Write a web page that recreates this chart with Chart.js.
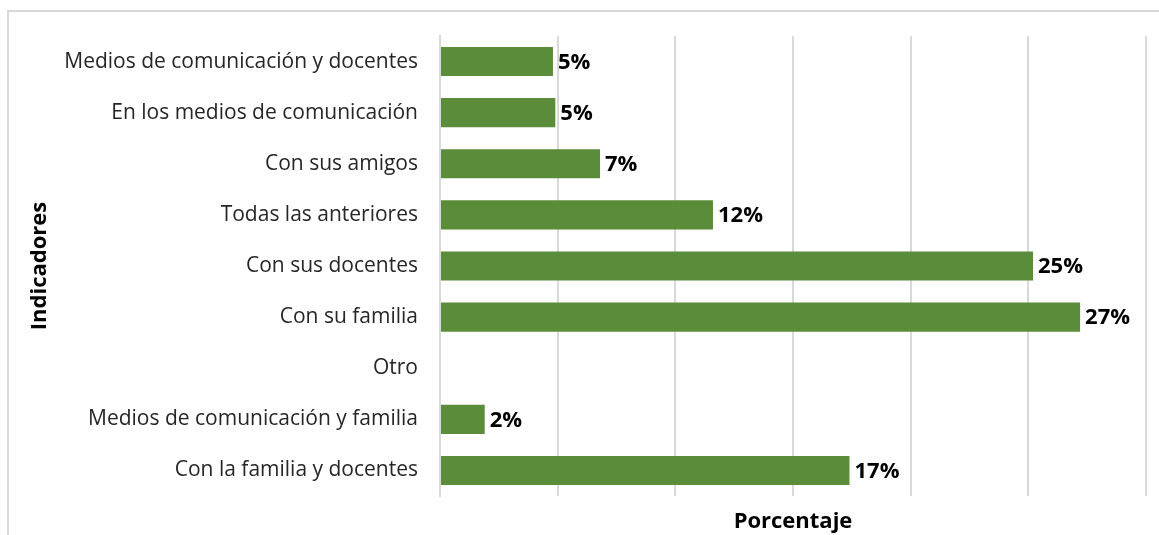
<!DOCTYPE html>
<html>
<head>
<meta charset="utf-8">
<script src="https://cdn.jsdelivr.net/npm/chart.js@4.4.1/dist/chart.umd.min.js"></script>
<style>
  html, body { margin: 0; padding: 0; background: #fff; }
  #wrap { position: relative; width: 1159px; height: 535px; overflow: hidden; }
  #frame { position: absolute; left: 7px; top: 10px; width: 1160px; height: 540px;
           border-top: 2px solid #d9d9d9; border-left: 2px solid #d9d9d9; box-sizing: border-box; }
  canvas { position: absolute; left: 0; top: 0; }
</style>
</head>
<body>
<div id="wrap">
  <div id="frame"></div>
  <canvas id="chart" width="1159" height="535"></canvas>
</div>
<script>
  // Categories, top to bottom as in the picture
  var categories = [
    'Medios de comunicación y docentes',
    'En los medios de comunicación',
    'Con sus amigos',
    'Todas las anteriores',
    'Con sus docentes',
    'Con su familia',
    'Otro',
    'Medios de comunicación y familia',
    'Con la familia y docentes'
  ];
  // Percentages
  var values = [4.8, 4.9, 6.8, 11.6, 25.2, 27.2, 0, 1.9, 17.4];
  var xTicks = [0, 5, 10, 15, 20, 25, 30];

  var barColor = '#5b8c3a';
  var gridColor = '#d9d9d9';
  var textColor = '#262626';
  var fontFamily = '"Open Sans", "Noto Sans", sans-serif';

  // Draw percent labels at the end of each bar
  var barLabels = {
    id: 'barLabels',
    afterDatasetsDraw: function(chart) {
      var ctx = chart.ctx;
      var meta = chart.getDatasetMeta(0);
      ctx.save();
      ctx.font = 'bold 22px ' + fontFamily;
      ctx.fillStyle = '#000';
      ctx.textAlign = 'left';
      ctx.textBaseline = 'middle';
      meta.data.forEach(function(bar, i) {
        if (!values[i]) return;
        ctx.fillText(Math.round(values[i]) + '%', bar.x + 5, bar.y + 1);
      });
      ctx.restore();
    }
  };

  new Chart(document.getElementById('chart').getContext('2d'), {
    type: 'bar',
    data: {
      labels: categories,
      datasets: [{
        data: values,
        backgroundColor: barColor,
        borderWidth: 0,
        categoryPercentage: 1,
        barPercentage: 0.57
      }]
    },
    options: {
      indexAxis: 'y',
      responsive: false,
      animation: false,
      layout: { padding: { left: 7, right: 13, top: 36, bottom: 0 } },
      plugins: {
        legend: { display: false },
        tooltip: { enabled: false }
      },
      scales: {
        x: {
          min: 0,
          max: 30,
          afterBuildTicks: function(scale) {
            scale.ticks = xTicks.map(function(v) { return { value: v }; });
          },
          afterFit: function(scale) { scale.height = 39; },
          grid: { color: gridColor, lineWidth: 2, drawTicks: false },
          border: { display: false },
          ticks: { display: false },
          title: {
            display: true,
            text: 'Porcentaje',
            color: '#000',
            font: { family: fontFamily, size: 22, weight: 'bold' },
            padding: { top: 0, bottom: 0 }
          }
        },
        y: {
          afterFit: function(scale) { scale.width = 433; },
          grid: { display: false, drawTicks: false },
          border: { display: true, color: gridColor, width: 2 },
          ticks: {
            color: textColor,
            padding: 22,
            font: { family: fontFamily, size: 21 }
          },
          title: {
            display: true,
            text: 'Indicadores',
            color: '#000',
            font: { family: fontFamily, size: 22, weight: 'bold' },
            padding: { top: 20, bottom: 0 }
          }
        }
      }
    },
    plugins: [barLabels]
  });
</script>
</body>
</html>
